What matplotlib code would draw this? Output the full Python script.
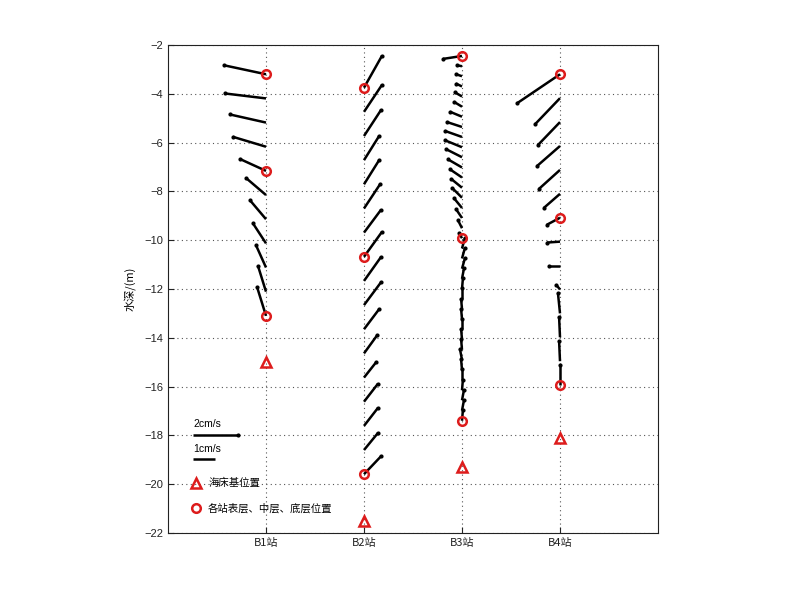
import numpy as np
import matplotlib
matplotlib.use("Agg")
import matplotlib.pyplot as plt

plt.rcParams['font.family'] = ['Liberation Sans', 'Noto Sans CJK SC', 'DejaVu Sans']

stations = ["B1站", "B2站", "B3站", "B4站"]
station_x = [1, 2, 3, 4]

# depths (m) and velocity components (cm/s, east / north)
b1_depth = [-3.2, -4.19, -5.18, -6.17, -7.16, -8.15, -9.14, -10.13, -11.12, -12.11, -13.1]
b1_u = [-1.87, -1.82, -1.60, -1.47, -1.16, -0.89, -0.71, -0.58, -0.44, -0.36, -0.40]
b1_v = [0.40, 0.22, 0.36, 0.44, 0.53, 0.76, 0.84, 0.89, 0.98, 1.16, 1.29]

b2_depth = [-3.75, -4.74, -5.73, -6.72, -7.71, -8.70, -9.69, -10.68, -11.67, -12.66,
            -13.65, -14.64, -15.63, -16.62, -17.61, -18.60, -19.59]
b2_u = [0.80, 0.80, 0.76, 0.67, 0.67, 0.71, 0.76, 0.80, 0.76, 0.76, 0.67, 0.58, 0.53, 0.62, 0.62, 0.62, 0.76]
b2_v = [1.42, 1.20, 1.16, 1.07, 1.07, 1.07, 1.02, 1.11, 1.07, 1.02, 0.89, 0.80, 0.67, 0.80, 0.80, 0.76, 0.80]

b3_depth = [-2.45, -2.87, -3.28, -3.70, -4.11, -4.53, -4.94, -5.36, -5.77, -6.19, -6.60,
            -7.02, -7.43, -7.85, -8.26, -8.68, -9.09, -9.51, -9.92, -10.34, -10.75, -11.17,
            -11.58, -12.00, -12.41, -12.83, -13.24, -13.66, -14.07, -14.49, -14.90, -15.32,
            -15.73, -16.15, -16.56, -16.98, -17.40]
b3_u = [-0.84, -0.22, -0.27, -0.27, -0.31, -0.36, -0.53, -0.67, -0.76, -0.76, -0.71,
        -0.62, -0.53, -0.49, -0.44, -0.36, -0.27, -0.18, -0.13, 0.13, 0.13, 0.13,
        0.09, 0.04, 0.0, -0.04, -0.04, 0.0, -0.04, -0.04, -0.09, -0.04, 0.0, 0.04, 0.09, 0.09, 0.04]
b3_v = [-0.13, 0.04, 0.09, 0.13, 0.18, 0.22, 0.22, 0.22, 0.27, 0.31, 0.36,
        0.36, 0.36, 0.40, 0.44, 0.44, 0.40, 0.36, 0.22, 0.47, 0.47, 0.47,
        0.47, 0.47, 0.47, 0.47, 0.47, 0.47, 0.47, 0.47, 0.47, 0.47, 0.47, 0.47, 0.47, 0.47, 0.47]

b4_depth = [-3.2, -4.18, -5.16, -6.14, -7.12, -8.10, -9.08, -10.06, -11.04, -12.02,
            -13.0, -13.98, -14.96, -15.94]
b4_u = [-1.91, -1.11, -0.98, -1.02, -0.93, -0.71, -0.58, -0.58, -0.49, -0.18, -0.09, -0.04, -0.04, 0.0]
b4_v = [-1.29, -1.16, -1.02, -0.89, -0.84, -0.62, -0.31, -0.04, 0.0, 0.22, 0.89, 0.89, 0.89, 0.89]

# marker depths
layer_x = [1, 1, 1, 2, 2, 2, 3, 3, 3, 4, 4, 4]
layer_depth = [-3.2, -7.16, -13.1, -3.75, -10.68, -19.59, -2.45, -9.92, -17.40, -3.2, -9.08, -15.94]
bed_x = [1, 2, 3, 4]
bed_depth = [-15.0, -21.5, -19.3, -18.1]

RED = '#dd1c1c'
fig = plt.figure(figsize=(8.0, 5.99), dpi=100)
ax = fig.add_axes([0.21, 0.1102, 0.6125, 0.8147])
ax.set_xlim(0, 5)
ax.set_ylim(-22, -2)

# px per cm/s, converted to data units per cm/s
px_per_cms = 22.5
ax_w_px = 0.6125 * 800
ax_h_px = 0.8147 * 599
sx = px_per_cms * 5 / ax_w_px
sy = px_per_cms * 20 / ax_h_px

LW = 1.8
MS = 2.0

def draw_vecs(x0, depth, u, v):
    for d, uu, vv in zip(depth, u, v):
        x1 = x0 + uu * sx
        y1 = d + vv * sy
        ax.plot([x0, x1], [d, y1], color='black', lw=LW, solid_capstyle='butt', zorder=3)
        ax.plot([x1], [y1], 'o', color='black', ms=MS, zorder=3)

draw_vecs(1, b1_depth, b1_u, b1_v)
draw_vecs(2, b2_depth, b2_u, b2_v)
draw_vecs(3, b3_depth, b3_u, b3_v)
draw_vecs(4, b4_depth, b4_u, b4_v)

ax.plot(layer_x, layer_depth, 'o', ls='none', mfc='none', mec=RED, mew=1.8, ms=6.2, zorder=4)
ax.plot(bed_x, bed_depth, '^', ls='none', mfc='none', mec=RED, mew=1.8, ms=6.5, zorder=4)

# legend-like annotations
lx = 0.255
ax.text(lx, -17.53, "2cm/s", fontsize=7.5, va='center', ha='left')
ax.plot([lx, lx + 2 * sx], [-17.98, -17.98], color='black', lw=LW, solid_capstyle='butt')
ax.plot([lx + 2 * sx], [-17.98], 'o', color='black', ms=MS)
ax.text(lx, -18.56, "1cm/s", fontsize=7.5, va='center', ha='left')
ax.plot([lx, lx + 1 * sx], [-18.97, -18.97], color='black', lw=LW, solid_capstyle='butt')
ax.plot([0.29], [-19.95], '^', mfc='none', mec=RED, mew=1.8, ms=6.5)
ax.text(0.41, -19.95, "海床基位置", fontsize=7.5, va='center', ha='left',
        family=['Noto Sans CJK SC', 'DejaVu Sans'])
ax.plot([0.29], [-20.98], 'o', mfc='none', mec=RED, mew=1.8, ms=6.2)
ax.text(0.41, -20.98, "各站表层、中层、底层位置", fontsize=7.5, va='center', ha='left',
        family=['Noto Sans CJK SC', 'DejaVu Sans'])

ax.set_xticks(station_x)
ax.set_xticklabels(stations, family=['Noto Sans CJK SC', 'DejaVu Sans'])
ax.set_yticks(np.arange(-22, -1, 2))
ax.tick_params(direction='in', labelsize=8, colors='#222222', length=4)
ax.grid(True, ls=(0, (1, 3)), color='#555555', lw=0.8)
ax.set_ylabel("水深/(m)", fontsize=8, family=['Noto Sans CJK SC', 'DejaVu Sans'], labelpad=6)
for s in ax.spines.values():
    s.set_linewidth(0.8)
    s.set_color('#222222')

fig.savefig("out.png", dpi=100)
